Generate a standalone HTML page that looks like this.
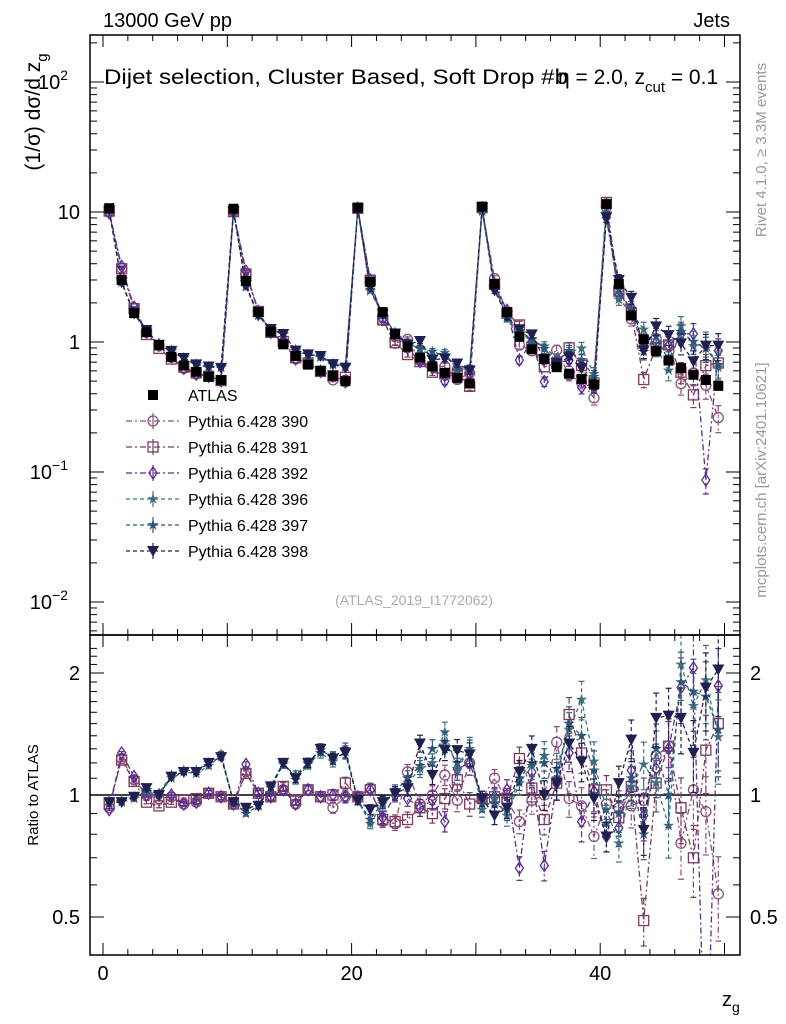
<!DOCTYPE html>
<html><head><meta charset="utf-8"><style>
html,body{margin:0;background:#fff;overflow:hidden;width:786px;height:1024px;}
svg{display:block;font-family:"Liberation Sans",sans-serif;}
</style></head><body>
<svg id="c" width="786" height="1024" viewBox="0 0 786 1024">
<text x="103" y="27" font-size="20">13000 GeV pp</text>
<text x="730" y="27" font-size="20" text-anchor="end">Jets</text>
<text x="104" y="84" font-size="21" textLength="464" lengthAdjust="spacingAndGlyphs">Dijet selection, Cluster Based, Soft Drop #b</text>
<text x="558" y="84" font-size="21">η = 2.0, z<tspan font-size="15" dy="8">cut</tspan><tspan dy="-8"> = 0.1</tspan></text>
<text transform="translate(40,112) rotate(-90)" font-size="21" text-anchor="middle">(1/σ) dσ/d z<tspan font-size="15" dy="7">g</tspan></text>
<text transform="translate(766,150) rotate(-90)" font-size="15" fill="#999" text-anchor="middle">Rivet 4.1.0, ≥ 3.3M events</text>
<text transform="translate(766,480) rotate(-90)" font-size="15" fill="#999" text-anchor="middle">mcplots.cern.ch [arXiv:2401.10621]</text>
<text x="414" y="605" font-size="14" fill="#aaa" text-anchor="middle">(ATLAS_2019_I1772062)</text>
<text transform="translate(38,795) rotate(-90)" font-size="15" text-anchor="middle">Ratio to ATLAS</text>
<text x="722" y="1006" font-size="20">z<tspan font-size="14" dy="6">g</tspan></text>
<g id="main"></g>
<g id="ratio"></g>
<g id="frames"></g>
<g id="legend"></g>
</svg>
<script>
const binCenters=[];for(let i=0;i<50;i++)binCenters.push(i+0.5);
const atlasValues=[10.7,3.0,1.67,1.19,0.95,0.77,0.66,0.59,0.54,0.51,
10.6,2.95,1.7,1.2,0.96,0.78,0.67,0.6,0.55,0.5,
10.8,2.9,1.7,1.15,0.92,0.76,0.65,0.58,0.53,0.48,
11,2.8,1.7,1.1,0.88,0.74,0.64,0.57,0.52,0.47,
11.5,2.8,1.6,1.05,0.85,0.72,0.63,0.56,0.51,0.46];
const r390=[0.93,1.23,1.09,1.0,0.98,0.99,0.95,0.96,1.01,0.99, 0.95,1.14,1.01,0.99,1.03,0.95,1.03,0.99,0.93,0.99, 0.99,1.04,0.86,0.85,1.14,0.95,1.0,1.12,0.97,1.2, 0.98,1.1,0.97,0.86,0.97,1.0,1.35,0.98,0.94,0.79, 0.95,0.93,0.94,0.97,1.25,1.32,0.76,1.03,0.91,0.57];
const r391=[0.95,1.22,1.08,0.96,0.94,0.96,0.97,0.98,1.01,0.99, 0.95,1.13,1.01,0.99,1.05,0.97,1.03,0.99,1.0,1.07, 0.99,1.03,0.87,0.86,0.87,0.93,0.9,0.98,1.09,0.95, 0.98,0.99,0.98,1.23,1.04,0.87,1.07,1.58,1.27,1.03, 1.03,0.88,1.05,0.49,1.07,1.32,0.93,0.7,1.29,1.5];
const r392=[0.92,1.27,1.11,1.0,1.0,1.0,0.95,0.96,1.01,0.99, 0.95,1.19,1.01,0.99,1.03,0.95,1.03,0.99,1.0,0.99, 0.99,1.03,0.88,1.0,0.98,0.93,0.97,0.86,1.16,1.2, 0.98,0.99,1.03,0.66,1.14,0.67,1.07,1.27,0.86,1.02, 0.79,0.83,1.15,0.89,1.16,1.3,1.84,2.06,0.17,1.86];
const r396=[0.97,0.97,0.99,1.02,1.0,1.1,1.14,1.13,1.18,1.25, 0.96,0.92,0.95,1.05,1.2,1.09,1.19,1.27,1.21,1.28, 0.97,0.85,0.95,1.01,1.07,1.16,1.2,1.43,1.16,1.3, 0.92,0.98,0.89,1.07,1.18,1.25,1.16,1.45,1.72,1.21, 0.92,0.76,1.05,1.19,1.07,0.84,2.1,1.66,1.92,1.39];
const r397=[0.96,0.96,0.98,1.03,1.01,1.12,1.15,1.15,1.2,1.26, 0.96,0.9,0.94,1.04,1.19,1.12,1.2,1.29,1.24,1.3, 0.97,0.87,0.96,1.02,1.1,1.18,1.3,1.35,1.2,1.28, 0.95,0.95,0.92,1.1,1.2,1.2,1.1,1.5,1.4,1.15, 0.85,0.9,1.1,0.8,1.3,1.0,1.9,1.8,1.75,1.45];
const r398=[0.96,0.96,0.99,1.04,1.0,1.11,1.14,1.14,1.2,1.24, 0.96,0.93,0.94,1.05,1.2,1.1,1.2,1.3,1.23,1.27, 0.97,0.92,0.96,1.01,1.04,1.34,1.12,1.29,1.29,1.26, 0.98,0.89,0.93,1.14,1.3,1.0,1.07,1.34,1.21,0.98, 0.79,1.07,1.37,0.82,1.55,1.57,1.55,1.27,1.84,2.04];
const blockErr=[0.01,0.02,0.04,0.07,0.14];
const seriesNames=["Pythia 6.428 390","Pythia 6.428 391","Pythia 6.428 392","Pythia 6.428 396","Pythia 6.428 397","Pythia 6.428 398"];
const seriesRatios=[r390,r391,r392,r396,r397,r398];
const colors=["#8a4f7d","#7a3d5c","#5b2d91","#3f7080","#2f5578","#1f2050"];
const markers=["circle","square","diamond","star","star","tri"];
const fills=[false,false,false,true,true,true];
const dashes=["6,3,2,3","6,3,2,3","6,3,2,3","4,3","4,3","4,3"];

const NS="http://www.w3.org/2000/svg";
function mk(t,a,p){const e=document.createElementNS(NS,t);for(const k in a)e.setAttribute(k,a[k]);p.appendChild(e);return e;}
const X0=90,X1=740,MT=35,MB=635,RT=635,RB=955;
const xs=v=>103+12.43*v;
const ym=v=>342-130*Math.log10(v);
const yr=v=>795-122*Math.log2(v);
const main=document.getElementById('main'),ratio=document.getElementById('ratio'),fr=document.getElementById('frames'),lg=document.getElementById('legend');
const svg=document.getElementById('c');
const defs=mk('defs',{},svg);
const cm=mk('clipPath',{id:'cm'},defs);mk('rect',{x:X0,y:MT,width:X1-X0,height:MB-MT},cm);
const cr=mk('clipPath',{id:'cr'},defs);mk('rect',{x:X0,y:RT,width:X1-X0,height:RB-RT},cr);
main.setAttribute('clip-path','url(#cm)');ratio.setAttribute('clip-path','url(#cr)');

function marker(type,x,y,col,fill,p,s){
  s=s||5;let e;
  if(type==='circle')e=mk('circle',{cx:x,cy:y,r:s,fill:'none',stroke:col,'stroke-width':1.3},p);
  else if(type==='square')e=mk('rect',{x:x-s,y:y-s,width:2*s,height:2*s,fill:'none',stroke:col,'stroke-width':1.3},p);
  else if(type==='sqfill')e=mk('rect',{x:x-s,y:y-s,width:2*s,height:2*s,fill:col},p);
  else if(type==='diamond')e=mk('polygon',{points:`${x},${y-s-1} ${x+s-1},${y} ${x},${y+s+1} ${x-s+1},${y}`,fill:'none',stroke:col,'stroke-width':1.3},p);
  else if(type==='tri')e=mk('polygon',{points:`${x-s-1},${y-s} ${x+s+1},${y-s} ${x},${y+s+1}`,fill:col},p);
  else{let pts=[];for(let k=0;k<10;k++){const a=-Math.PI/2+k*Math.PI/5,r=k%2?s*0.45:s*1.2;pts.push((x+r*Math.cos(a)).toFixed(1)+','+(y+r*Math.sin(a)).toFixed(1));}
    e=mk('polygon',{points:pts.join(' '),fill:col},p);}
  return e;
}
function drawSeries(p,yfun,vals,errs,si){
  const col=colors[si];
  const g=mk('g',{},p);
  
  
  const pts=vals.map((v,i)=>xs(binCenters[i]).toFixed(1)+','+yfun(v).toFixed(1));
  mk('polyline',{points:pts.join(' '),fill:'none',stroke:col,'stroke-width':1.3,'stroke-dasharray':dashes[si]},g);
  vals.forEach((v,i)=>{const x=xs(binCenters[i]);const e=errs[i];
    const y1=yfun(v*(1+e)),y2=yfun(Math.max(v*(1-e),1e-4));
    mk('line',{x1:x,x2:x,y1:y1,y2:y2,stroke:col,'stroke-width':1.2,'stroke-dasharray':dashes[si]},g);
    mk('line',{x1:x-3,x2:x+3,y1:y1,y2:y1,stroke:col,'stroke-width':1.2},g);
    mk('line',{x1:x-3,x2:x+3,y1:y2,y2:y2,stroke:col,'stroke-width':1.2},g);
    const m=marker(markers[si],x,yfun(v),col,fills[si],g);
    
    
  });
}
const mcErr=binCenters.map((c,i)=>blockErr[Math.floor(i/10)]*(0.6+0.12*(i%10)));
mk('line',{x1:X0,x2:X1,y1:yr(1),y2:yr(1),stroke:'#000','stroke-width':1.5},ratio);
seriesRatios.forEach((r,si)=>{
  drawSeries(main,ym,r.map((v,i)=>v*atlasValues[i]),mcErr,si);
  drawSeries(ratio,yr,r,mcErr,si);
});
const ag=mk('g',{},main);


atlasValues.forEach((v,i)=>{const x=xs(binCenters[i]);
  const m=marker('sqfill',x,ym(v),'#000',true,ag,5);
  
  
});
mk('rect',{x:X0,y:MT,width:X1-X0,height:MB-MT,fill:'none',stroke:'#000','stroke-width':1.5},fr);
mk('rect',{x:X0,y:RT,width:X1-X0,height:RB-RT,fill:'none',stroke:'#000','stroke-width':1.5},fr);
for(let v=0;v<=51;v++){const x=xs(v);if(x<X0||x>X1)continue;const L=v%10===0?12:(v%2===0?6:0);if(!L)continue;
  [[MT,MB],[RT,RB]].forEach(([t,b])=>{mk('line',{x1:x,x2:x,y1:b,y2:b-L,stroke:'#000'},fr);mk('line',{x1:x,x2:x,y1:t,y2:t+L,stroke:'#000'},fr);});}
const xTickLabels=["0","20","40"];
xTickLabels.forEach(l=>{const t=mk('text',{x:xs(+l),y:980,'font-size':20,'text-anchor':'middle'},fr);t.textContent=l;
  });
for(let d=-3;d<=2;d++)for(let k=1;k<10;k++){const v=k*Math.pow(10,d);const y=ym(v);if(y<MT||y>MB)continue;const L=k===1?14:7;
  mk('line',{x1:X0,x2:X0+L,y1:y,y2:y,stroke:'#000'},fr);mk('line',{x1:X1,x2:X1-L,y1:y,y2:y,stroke:'#000'},fr);}
const yTickLabels=[[2,"10","2"],[1,"10",""],[0,"1",""],[-1,"10","−1"],[-2,"10","−2"]];
yTickLabels.forEach(([d,b,e])=>{const t=mk('text',{x:e?68:80,y:ym(Math.pow(10,d))+7,'font-size':20,'text-anchor':'end'},fr);t.textContent=b;
  if(e){const s=mk('tspan',{'font-size':14,dy:-9},t);s.textContent=e;}
  });
const rMinor=[0.4,0.5,0.6,0.7,0.8,0.9,1,1.1,1.2,1.3,1.4,1.5,1.6,1.7,1.8,1.9,2,2.1,2.2,2.3];
rMinor.forEach(v=>{const y=yr(v);if(y<RT||y>RB)return;const L=[0.5,1,2].includes(v)?14:7;
  mk('line',{x1:X0,x2:X0+L,y1:y,y2:y,stroke:'#000'},fr);mk('line',{x1:X1,x2:X1-L,y1:y,y2:y,stroke:'#000'},fr);});
const rTickLabels=["2","1","0.5"];
rTickLabels.forEach(l=>{[[80,'end'],[750,'start']].forEach(([x,a])=>{const t=mk('text',{x:x,y:yr(+l)+7,'font-size':20,'text-anchor':a},fr);t.textContent=l;
  });});
let ly=395;
const le=mk('g',{},lg);
marker('sqfill',153,ly,'#000',true,le,5);
let lt=mk('text',{x:188,y:ly+6,'font-size':16},le);lt.textContent='ATLAS';
seriesNames.forEach((n,si)=>{const y=ly+26*(si+1);
  const g=mk('g',{},lg);
  
  
  mk('line',{x1:126,x2:180,y1:y,y2:y,stroke:colors[si],'stroke-width':1.3,'stroke-dasharray':dashes[si]},g);
  mk('line',{x1:153,x2:153,y1:y-8,y2:y+8,stroke:colors[si],'stroke-width':1.2},g);
  marker(markers[si],153,y,colors[si],fills[si],g);
  const t=mk('text',{x:188,y:y+6,'font-size':16},g);t.textContent=n;});
</script>
</body></html>
